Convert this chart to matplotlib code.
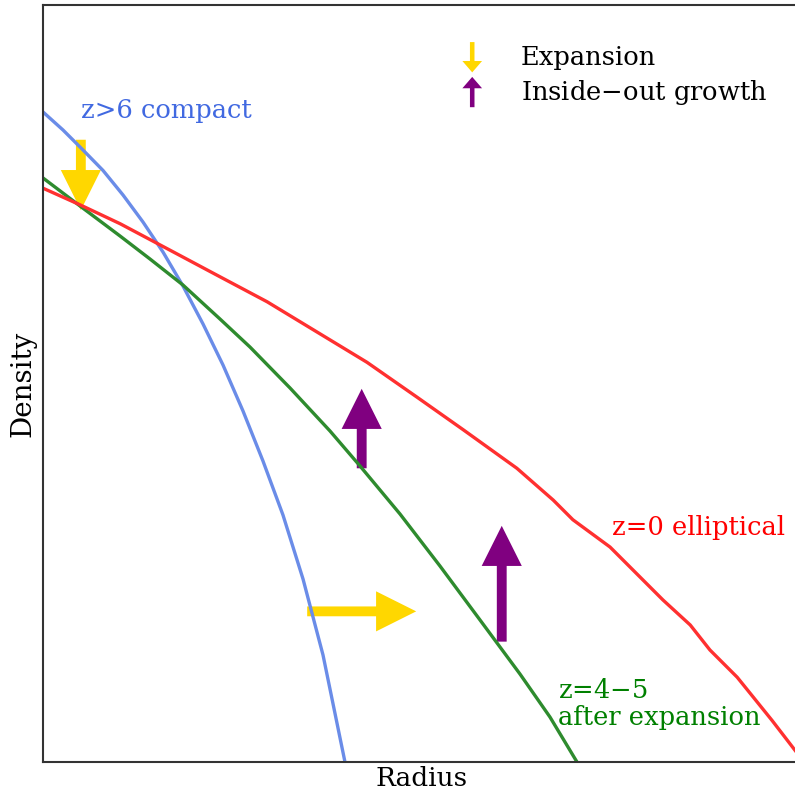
import matplotlib.pyplot as plt
from matplotlib.patches import FancyArrow

plt.rcParams['font.family'] = ['DejaVu Serif']
plt.rcParams['mathtext.fontset'] = 'dejavuserif'

# curves (arbitrary units, radius 0-10, density 0-10)
compact_r = [0, 0.264, 0.528, 0.793, 1.057, 1.321, 1.585, 1.849, 2.114, 2.378,
             2.642, 2.906, 3.170, 3.435, 3.699, 3.989]
compact_d = [8.587, 8.349, 8.085, 7.814, 7.490, 7.133, 6.737, 6.288, 5.786, 5.244,
             4.637, 3.976, 3.263, 2.417, 1.413, 0.0]

expanded_r = [0, 0.489, 1.017, 1.413, 1.849, 2.338, 2.734, 3.263, 3.791, 4.188,
              4.716, 5.244, 5.773, 6.301, 6.697, 7.054]
expanded_d = [7.715, 7.345, 6.949, 6.645, 6.301, 5.852, 5.482, 4.941, 4.373, 3.910,
              3.276, 2.589, 1.876, 1.162, 0.594, 0.0]

ellip_r = [0, 0.49, 1.02, 1.68, 2.30, 2.96, 3.62, 4.28, 4.94, 5.55, 6.26, 6.74,
           7.00, 7.49, 7.79, 8.19, 8.55, 8.81, 9.17, 9.38, 9.63, 9.93, 10.0]
ellip_d = [7.58, 7.36, 7.11, 6.76, 6.43, 6.08, 5.68, 5.28, 4.82, 4.39, 3.88, 3.46,
           3.20, 2.84, 2.54, 2.14, 1.81, 1.48, 1.12, 0.86, 0.55, 0.16, 0.07]

# arrows: (x, y, dx, dy)
expansion_arrows = [(0.50, 8.22, 0, -0.93), (3.49, 1.99, 1.44, 0)]
growth_arrows = [(4.21, 3.88, 0, 1.05), (6.06, 1.59, 0, 1.53)]

fig = plt.figure(figsize=(7.95, 7.93), dpi=100)
ax = fig.add_axes([43 / 795, 31 / 793, 757 / 795, 757 / 793])

ax.plot(compact_r, compact_d, color='#6a8ce8', lw=2.4)
ax.plot(expanded_r, expanded_d, color='#2e8b2e', lw=2.4)
ax.plot(ellip_r, ellip_d, color='#ff3030', lw=2.4)

for x, y, dx, dy in expansion_arrows:
    ax.add_patch(FancyArrow(x, y, dx, dy, width=0.13, head_width=0.53, head_length=0.53,
                            length_includes_head=True, color='gold', lw=0))
for x, y, dx, dy in growth_arrows:
    ax.add_patch(FancyArrow(x, y, dx, dy, width=0.13, head_width=0.53, head_length=0.53,
                            length_includes_head=True, color='purple', lw=0))

# legend-like key
ax.add_patch(FancyArrow(5.67, 9.51, 0, -0.40, width=0.06, head_width=0.26, head_length=0.15,
                        length_includes_head=True, color='gold', lw=0))
ax.add_patch(FancyArrow(5.67, 8.65, 0, 0.40, width=0.06, head_width=0.26, head_length=0.15,
                        length_includes_head=True, color='purple', lw=0))
ax.text(6.31, 9.31, 'Expansion', fontsize=18.5, va='center')
ax.text(6.31, 8.85, 'Inside$-$out growth', fontsize=18.5, va='center')

ax.text(0.50, 8.61, 'z>6 compact', fontsize=18.5, va='center', color='royalblue')
ax.text(7.52, 3.10, 'z=0 elliptical', fontsize=18.5, va='center', color='red')
ax.text(6.80, 0.77, 'z=4$-$5\nafter expansion', fontsize=18.5, va='center',
        color='green', linespacing=1.1)

ax.set_xlim(0, 10)
ax.set_ylim(0, 10)
ax.set_xticks([])
ax.set_yticks([])
for s in ax.spines.values():
    s.set_color('#333333')
    s.set_linewidth(1.5)
ax.set_xlabel('Radius', fontsize=19, labelpad=3)
ax.set_ylabel('Density', fontsize=20, labelpad=5)

fig.savefig('out.png', dpi=100)
